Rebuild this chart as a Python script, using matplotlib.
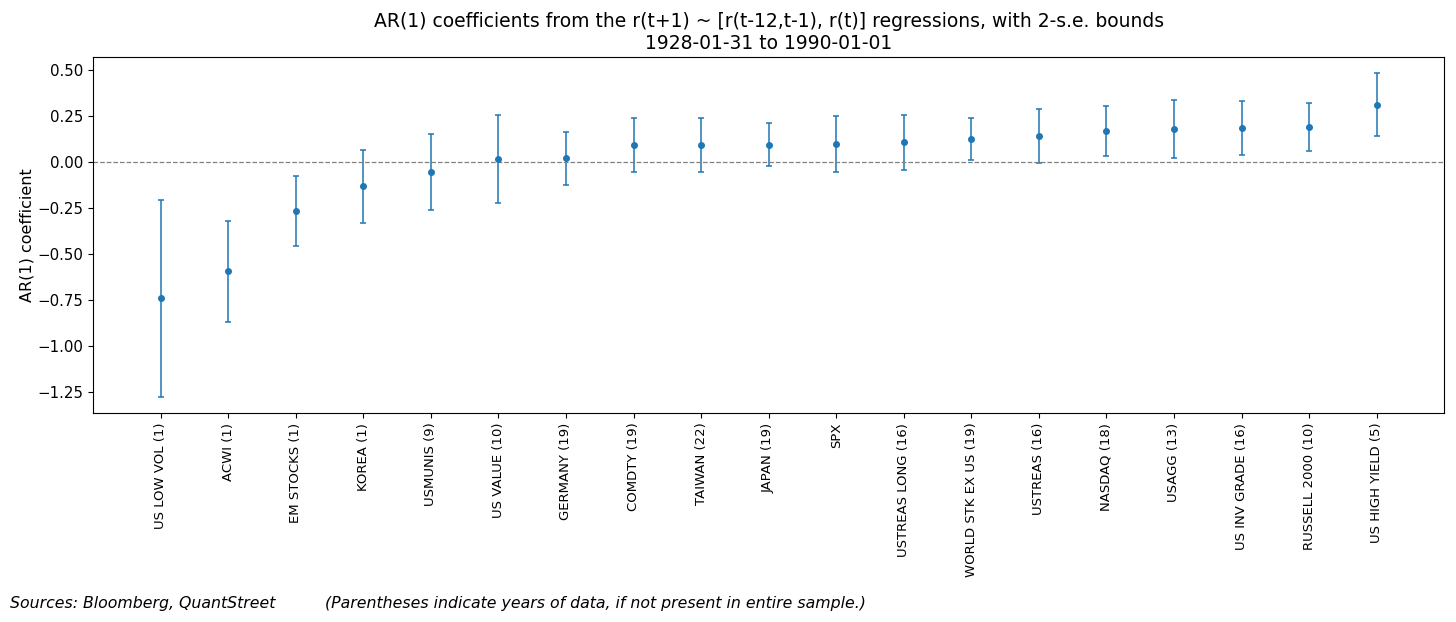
import numpy as np
import matplotlib
matplotlib.use("Agg")
import matplotlib.pyplot as plt

names = ['US LOW VOL (1)', 'ACWI (1)', 'EM STOCKS (1)', 'KOREA (1)', 'USMUNIS (9)',
         'US VALUE (10)', 'GERMANY (19)', 'COMDTY (19)', 'TAIWAN (22)', 'JAPAN (19)',
         'SPX', 'USTREAS LONG (16)', 'WORLD STK EX US (19)', 'USTREAS (16)', 'NASDAQ (18)',
         'USAGG (13)', 'US INV GRADE (16)', 'RUSSELL 2000 (10)', 'US HIGH YIELD (5)']
coef = [-0.742, -0.596, -0.268, -0.132, -0.053,
        0.016, 0.020, 0.092, 0.095, 0.095,
        0.099, 0.108, 0.126, 0.139, 0.168,
        0.180, 0.186, 0.190, 0.312]
two_se = [0.536, 0.275, 0.190, 0.198, 0.206,
          0.241, 0.143, 0.147, 0.147, 0.117,
          0.153, 0.150, 0.114, 0.147, 0.138,
          0.160, 0.148, 0.130, 0.172]

fig = plt.figure(figsize=(14.56, 6.22), dpi=100)
ax = fig.add_axes([0.0639, 0.336, 0.928, 0.5726])

x = np.arange(len(names))
ax.errorbar(x, coef, yerr=two_se, fmt='o', color='tab:blue', markersize=4,
            capsize=2.5, elinewidth=1.1, capthick=1.1)
ax.axhline(0, color='gray', linestyle='--', linewidth=0.9)
ax.set_xlim(-1, len(names))
ax.set_xticks(x)
ax.set_xticklabels(names, rotation=90, fontsize=9.5)
ax.tick_params(axis='y', labelsize=10.8)
ax.set_ylabel('AR(1) coefficient', fontsize=11.5, labelpad=2)
ax.set_title('AR(1) coefficients from the r(t+1) ~ [r(t-12,t-1), r(t)] regressions, with 2-s.e. bounds\n'
             '1928-01-31 to 1990-01-01', fontsize=13.5)

fig.text(0.007, 0.0305, 'Sources: Bloomberg, QuantStreet', fontsize=11.3, style='italic', va='center')
fig.text(0.223, 0.0305, '(Parentheses indicate years of data, if not present in entire sample.)',
         fontsize=11.3, style='italic', va='center')

fig.savefig('out.png', dpi=100)
